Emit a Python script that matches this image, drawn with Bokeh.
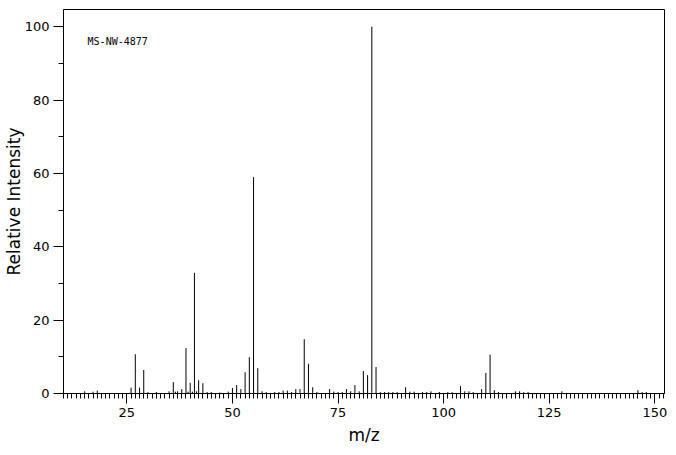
from bokeh.plotting import figure
from bokeh.models import Range1d, FixedTicker, Label, Whisker, ColumnDataSource
from bokeh.embed import file_html
from bokeh.resources import INLINE

# ---- data (m/z, relative intensity) ----
mz = [15, 17, 18, 26, 27, 28, 29, 30, 32, 35, 36, 36.5, 37, 38, 39, 39.5, 40, 40.5,
      41, 41.5, 42, 43, 44, 45, 47, 49, 50, 51, 52, 53, 54, 55, 56, 57, 58, 60, 61,
      62, 63, 64, 65, 66, 67, 68, 69, 70, 73, 74, 75, 76, 77, 78, 79, 80, 81, 82, 83,
      84, 85, 86, 87, 88, 89, 91, 92, 93, 95, 96, 97, 99, 101, 102, 104, 105, 106,
      107, 109, 110, 111, 112, 113, 117, 118, 119, 120, 128, 146, 147, 148]
intensity = [0.6, 0.5, 0.8, 1.6, 10.7, 1.6, 6.4, 0.4, 0.4, 0.6, 3.1, 0.5, 0.6, 1.2, 12.4, 0.5, 2.9, 0.5,
             32.9, 0.6, 3.6, 2.8, 0.4, 0.4, 0.3, 0.5, 1.5, 2.3, 1.2, 5.8, 9.9, 59.0, 6.9, 0.6, 0.4, 0.4, 0.4,
             0.8, 0.8, 0.4, 1.2, 1.2, 14.8, 8.1, 1.7, 0.4, 1.2, 0.5, 0.4, 0.4, 1.2, 0.6, 2.3, 0.6, 6.1, 5.0, 100.0,
             7.2, 0.4, 0.4, 0.4, 0.4, 0.4, 1.7, 0.5, 0.5, 0.4, 0.4, 0.6, 0.4, 0.4, 0.4, 2.0, 0.6, 0.6,
             0.4, 1.2, 5.6, 10.6, 0.9, 0.4, 0.6, 0.6, 0.4, 0.4, 0.6, 0.9, 0.4, 0.4]

x_major_ticks = [25, 50, 75, 100, 125, 150]
x_mid_ticks = [15, 20, 30, 35, 40, 45, 55, 60, 65, 70, 80, 85, 90, 95,
               105, 110, 115, 120, 130, 135, 140, 145]
x_minor_ticks = list(range(10, 153))
y_major_ticks = [0, 20, 40, 60, 80, 100]
y_minor_ticks = [10, 30, 50, 70, 90]
sample_id = "MS-NW-4877"

FONT = "DejaVu Sans"

p = figure(width=668, height=447,
           x_range=Range1d(10, 152.3), y_range=Range1d(0, 104.7),
           output_backend="svg", toolbar_location=None,
           min_border_left=63, min_border_right=4,
           min_border_top=9, min_border_bottom=54)
p.background_fill_color = "white"
p.border_fill_color = "white"
p.outline_line_color = "black"
p.outline_line_alpha = 1.0
p.outline_line_width = 1
p.grid.visible = False

p.segment(x0=mz, y0=0, x1=mz, y1=intensity, line_color="black", line_width=1)

# x axis
xa = p.xaxis[0]
xa.ticker = FixedTicker(ticks=x_major_ticks, minor_ticks=x_minor_ticks)
xa.axis_line_color = "black"
xa.major_tick_line_color = "black"
xa.minor_tick_line_color = "black"
xa.major_tick_out = 10
xa.major_tick_in = 0
xa.minor_tick_out = 5
xa.minor_tick_in = 0
xa.major_label_standoff = 4
xa.major_label_text_font = FONT
xa.major_label_text_font_size = "13px"
xa.major_label_text_color = "black"
xa.axis_label = "m/z"
xa.axis_label_text_font = FONT
xa.axis_label_text_font_size = "17px"
xa.axis_label_text_font_style = "normal"
xa.axis_label_text_color = "black"
xa.axis_label_standoff = 5

# medium ticks every 5 units
mid_src = ColumnDataSource(dict(base=x_mid_ticks,
                                lower=[-1.9] * len(x_mid_ticks),
                                upper=[0] * len(x_mid_ticks)))
p.add_layout(Whisker(source=mid_src, base="base", lower="lower", upper="upper",
                     dimension="height", lower_head=None, upper_head=None,
                     line_color="black", line_width=1))

# y axis
ya = p.yaxis[0]
ya.ticker = FixedTicker(ticks=y_major_ticks, minor_ticks=y_minor_ticks)
ya.axis_line_color = "black"
ya.major_tick_line_color = "black"
ya.minor_tick_line_color = "black"
ya.major_tick_out = 10
ya.major_tick_in = 0
ya.minor_tick_out = 5
ya.minor_tick_in = 0
ya.major_label_standoff = 4
ya.major_label_text_font = FONT
ya.major_label_text_font_size = "13px"
ya.major_label_text_color = "black"
ya.axis_label = "Relative Intensity"
ya.axis_label_text_font = FONT
ya.axis_label_text_font_size = "17px"
ya.axis_label_text_font_style = "normal"
ya.axis_label_text_color = "black"
ya.axis_label_standoff = -2

p.add_layout(Label(x=15.7, y=96.0, text=sample_id, text_font="DejaVu Sans Mono",
                   text_font_size="10px", text_baseline="middle", text_color="black"))

open("out.html", "w").write(file_html(p, INLINE))
